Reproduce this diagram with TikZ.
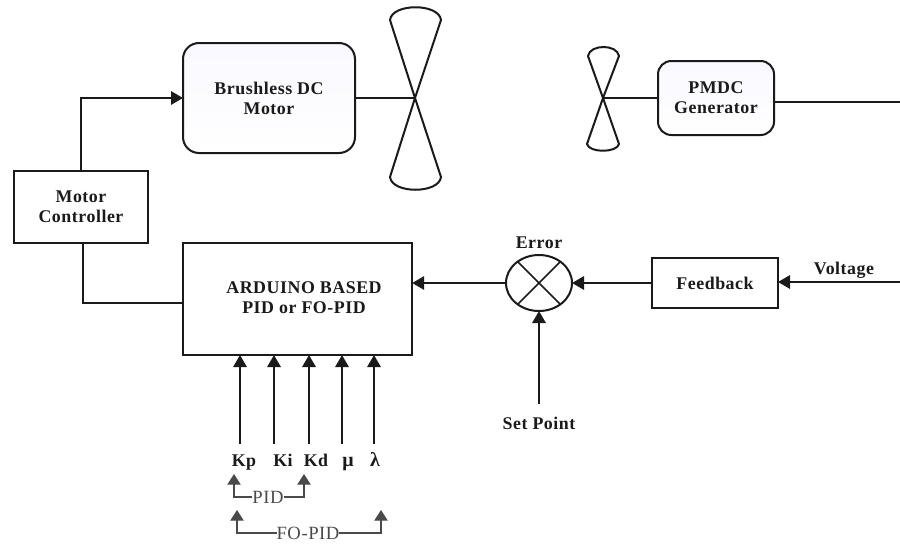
\documentclass[tikz,border=0pt]{standalone}
\usepackage{fontspec}
\setmainfont{Liberation Serif}[LetterSpace=3]
\usetikzlibrary{arrows.meta,shapes.geometric}
\definecolor{ink}{HTML}{1A1A1A}
\definecolor{softink}{HTML}{4A4A4A}
\tikzset{
  x=0.75pt,y=-0.75pt,
  every node/.style={text=ink,font=\bfseries\fontsize{13.4}{15}\selectfont,align=center,inner sep=0pt,outer sep=0pt},
  wire/.style={draw=ink,line width=1.5pt},
  feed/.style={wire,-{Triangle[length=9pt,width=10pt]}},
  thinfeed/.style={draw=softink,line width=0.9pt,-{Triangle[length=8pt,width=10pt]}},
  blockbox/.style={draw=ink,line width=1.5pt,fill=white},
  softbox/.style={blockbox,rounded corners=12pt,top color=blue!2.5!white,bottom color=white},
  softbox small/.style={blockbox,rounded corners=10pt,top color=blue!2.5!white,bottom color=white},
  fan/.style={draw=ink,line width=1.5pt,line join=round},
  mixer/.style={ellipse,draw=ink,line width=1.5pt,fill=white,minimum width=49.5pt,minimum height=42pt},
  grouptag/.style={text=softink,font=\fontsize{14}{13}\selectfont},
  gainlabel/.style={anchor=base},
}
\begin{document}
\begin{tikzpicture}
\useasboundingbox (0,0) rectangle (900,543);
% blocks
\node[softbox,minimum width=129pt,minimum height=82.5pt] (motor) at (269,98) {Brushless DC\\Motor};
\node[softbox small,minimum width=87pt,minimum height=55.5pt] (gen) at (716,98) {PMDC\\Generator};
\node[blockbox,minimum width=100.5pt,minimum height=54pt] (ctrl) at (81,207) {Motor\\Controller};
\node[blockbox,minimum width=172pt,minimum height=84pt] (ard) at (297.5,299) {};
\node (ardtext) at (304,298) {ARDUINO BASED\\PID or FO-PID};
\node[blockbox,minimum width=94.5pt,minimum height=37.5pt] (fb) at (715,283) {Feedback};
\node[mixer] (mix) at (539,283) {};
\draw[wire,line width=1.3pt] (mix.45) -- (mix.225) (mix.135) -- (mix.315);
% fans
\coordinate (hubA) at (415,98);
\coordinate (hubB) at (603,98);
\draw[fan] (hubA) -- (390,20) .. controls (392,3) and (439,3) .. (441,20) -- cycle;
\draw[fan] (hubA) -- (390,177) .. controls (392,194) and (439,194) .. (441,177) -- cycle;
\draw[fan] (hubB) -- (588,56) .. controls (590,44) and (617,44) .. (619,56) -- cycle;
\draw[fan] (hubB) -- (587,144) .. controls (589,153) and (617,153) .. (619,144) -- cycle;
\draw[wire,line width=1.2pt] (motor.east) -- (hubA);
\draw[wire,line width=1.2pt] (gen.west) -- (hubB);
\coordinate (genout) at (900,102);
\draw[wire] (genout -| gen.east) -- (genout);
% labels
\node (err) at (539,243) {Error};
\node (volt) at (844,270) {Voltage};
\node (setp) at (539,423) {Set Point};
\node[gainlabel] (kp) at (244,466) {Kp};
\node[gainlabel] (ki) at (283,466) {Ki};
\node[gainlabel] (kd) at (316,466) {Kd};
\node[gainlabel] (mu) at (348,466) {\fontspec{Liberation Serif}\fontsize{15}{15}\selectfont μ};
\node[gainlabel] (la) at (375,466) {\fontspec{Liberation Serif}\fontsize{15}{15}\selectfont λ};
\node[grouptag] (pid) at (268,497) {PID};
\node[grouptag] (fopid) at (308,533) {FO-PID};
% main connectors
\coordinate (ctrlup) at (81,171);
\coordinate (ctrldn) at (83,243);
\draw[feed] (ctrlup) |- (motor.west);
\coordinate (ardin) at (183,303);
\draw[wire] (ctrldn) |- (ardin);
\coordinate (vin) at (900,282);
\draw[feed] (vin) -- (vin -| fb.east);
\draw[feed] (fb.west) -- (mix.east);
\draw[feed] (mix.west) -- (mix.west -| ard.east);
\coordinate (spin) at (539,404);
\draw[feed] (spin) -- (mix.south);
% tuning inputs
\foreach \n/\xx in {a/240,b/274,c/309,d/342,e/374}{
  \coordinate (p\n) at (\xx,444);
  \draw[feed] (p\n) -- (p\n |- ard.south);
}
% PID brackets
\coordinate (pl) at (234,474);
\coordinate (pr) at (304,474);
\draw[thinfeed] (pid.west) -| (pl);
\draw[thinfeed] (pid.east) -| (pr);
\coordinate (fl) at (237,510);
\coordinate (fr) at (381,510);
\draw[thinfeed] (fopid.west) -| (fl);
\draw[thinfeed] (fopid.east) -| (fr);
\end{tikzpicture}
\end{document}
